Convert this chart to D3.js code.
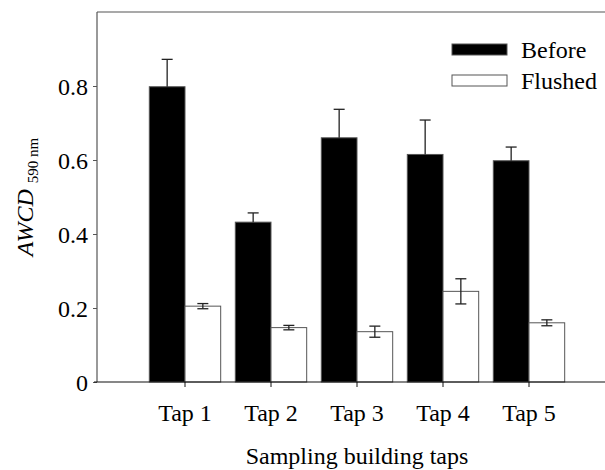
<!DOCTYPE html>
<html>
<head>
<meta charset="utf-8">
<script src="https://cdn.jsdelivr.net/npm/d3@7"></script>
<style>
  body { margin: 0; background: #fff; }
  svg text { font-family: "Liberation Serif", "Times New Roman", serif; fill: #000; }
</style>
</head>
<body>
<svg id="chart" width="605" height="470"></svg>
<script>
// AWCD before / after flushing, per tap
const taps = ['Tap 1', 'Tap 2', 'Tap 3', 'Tap 4', 'Tap 5'];
const seriesNames = ['Before', 'Flushed'];
const beforeVals = [0.798, 0.432, 0.660, 0.615, 0.598];
const beforeErr = [0.074, 0.025, 0.077, 0.093, 0.037];
const flushedVals = [0.205, 0.147, 0.136, 0.245, 0.160];
const flushedErr = [0.007, 0.006, 0.015, 0.034, 0.008];
const yTicks = [0, 0.2, 0.4, 0.6, 0.8];

const svg = d3.select('#chart');
const width = +svg.attr('width');

const plotLeft = 97, plotTop = 12, plotBottom = 382;
const lineColor = '#555';
const fontSize = 24;

const x = d3.scaleBand()
    .domain(taps)
    .range([142, 572])
    .paddingInner(0.17)
    .paddingOuter(0.085);

const xSub = d3.scaleBand()
    .domain(seriesNames)
    .range([0, x.bandwidth()]);

const y = d3.scaleLinear()
    .domain([0, 1])
    .range([plotBottom, plotTop]);

const fills = { Before: '#000', Flushed: '#fff' };

const rows = taps.map((t, i) => ({
    tap: t,
    items: [
        { key: 'Before', v: beforeVals[i], e: beforeErr[i], both: false },
        { key: 'Flushed', v: flushedVals[i], e: flushedErr[i], both: true }
    ]
}));

// top frame line
svg.append('line')
    .attr('x1', plotLeft).attr('x2', width)
    .attr('y1', plotTop).attr('y2', plotTop)
    .attr('stroke', lineColor).attr('stroke-width', 1.2);

// bars
const groups = svg.append('g').selectAll('g')
    .data(rows)
    .join('g')
    .attr('transform', d => `translate(${x(d.tap)},0)`);

groups.selectAll('rect')
    .data(d => d.items)
    .join('rect')
    .attr('x', d => xSub(d.key))
    .attr('y', d => y(d.v))
    .attr('width', xSub.bandwidth())
    .attr('height', d => y(0) - y(d.v))
    .attr('fill', d => fills[d.key])
    .attr('stroke', lineColor)
    .attr('stroke-width', 1);

// error bars
const capW = 11;
groups.selectAll('g.err')
    .data(d => d.items)
    .join('g')
    .attr('class', 'err')
    .each(function(d) {
        const g = d3.select(this);
        const cx = xSub(d.key) + xSub.bandwidth() / 2;
        const lo = d.both ? d.v - d.e : d.v;
        const hi = d.v + d.e;
        g.append('line')
            .attr('x1', cx).attr('x2', cx)
            .attr('y1', y(lo)).attr('y2', y(hi))
            .attr('stroke', '#222').attr('stroke-width', 1.3);
        g.append('line')
            .attr('x1', cx - capW / 2).attr('x2', cx + capW / 2)
            .attr('y1', y(hi)).attr('y2', y(hi))
            .attr('stroke', '#222').attr('stroke-width', 1.3);
        if (d.both) {
            g.append('line')
                .attr('x1', cx - capW / 2).attr('x2', cx + capW / 2)
                .attr('y1', y(lo)).attr('y2', y(lo))
                .attr('stroke', '#222').attr('stroke-width', 1.3);
        }
    });

// y axis
const yAxis = svg.append('g')
    .attr('transform', `translate(${plotLeft},0)`)
    .call(d3.axisLeft(y).tickValues(yTicks).tickSize(4).tickPadding(5)
        .tickFormat(d => d === 0 ? '0' : d3.format('.1f')(d)));
yAxis.select('.domain').remove();
yAxis.append('line')
    .attr('x1', 0).attr('x2', 0)
    .attr('y1', plotTop).attr('y2', plotBottom)
    .attr('stroke', lineColor).attr('stroke-width', 1.2);
yAxis.selectAll('.tick line').attr('stroke', lineColor);
yAxis.selectAll('.tick text')
    .attr('font-size', fontSize)
    .attr('font-family', '"Liberation Serif", serif')
    .attr('fill', '#000')
    .attr('dy', '0.35em');

// x axis
const xAxis = svg.append('g')
    .attr('transform', `translate(0,${plotBottom})`)
    .call(d3.axisBottom(x).tickSize(5).tickPadding(17));
xAxis.select('.domain').remove();
xAxis.append('line')
    .attr('x1', plotLeft - 3).attr('x2', width)
    .attr('y1', 0).attr('y2', 0)
    .attr('stroke', '#111').attr('stroke-width', 1.2);
xAxis.selectAll('.tick line').attr('stroke', '#111');
xAxis.selectAll('.tick text')
    .attr('font-size', fontSize)
    .attr('font-family', '"Liberation Serif", serif')
    .attr('fill', '#000');

// x title
svg.append('text')
    .attr('x', 357)
    .attr('y', 464)
    .attr('text-anchor', 'middle')
    .attr('font-size', fontSize)
    .text('Sampling building taps');

// y title with subscript
const yt = svg.append('text')
    .attr('transform', 'translate(33,197) rotate(-90)')
    .attr('text-anchor', 'middle')
    .attr('font-size', 24);
yt.append('tspan').attr('font-style', 'italic').text('AWCD');
yt.append('tspan').attr('font-size', 15).attr('dx', 6).attr('dy', 5).text('590 nm');

// legend
const legend = svg.append('g')
    .selectAll('g')
    .data(seriesNames)
    .join('g')
    .attr('transform', (d, i) => `translate(452,${44 + i * 31})`);
legend.append('rect')
    .attr('width', 55).attr('height', 11)
    .attr('fill', d => fills[d])
    .attr('stroke', lineColor).attr('stroke-width', 1);
legend.append('text')
    .attr('x', 69).attr('y', 14)
    .attr('font-size', fontSize)
    .text(d => d);
</script>
</body>
</html>
